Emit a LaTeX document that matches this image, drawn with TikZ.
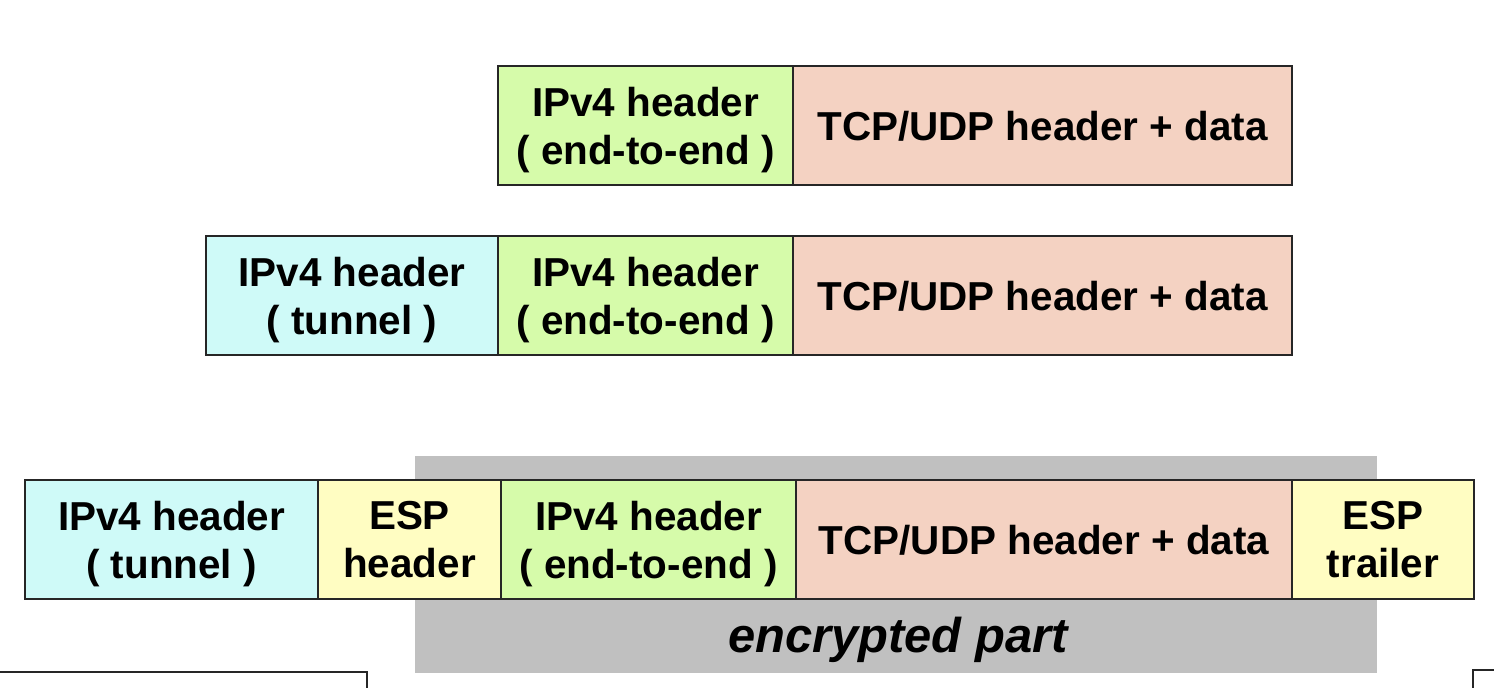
\documentclass[tikz,border=0pt]{standalone}
\usepackage{fontspec}
\setmainfont{Liberation Sans}
\usepackage{tikz}
\usetikzlibrary{positioning}

\definecolor{tunnelc}{RGB}{207,250,248}
\definecolor{endc}{RGB}{214,251,170}
\definecolor{datac}{RGB}{244,210,194}
\definecolor{espc}{RGB}{255,253,194}
\definecolor{cryptc}{RGB}{192,192,192}

\tikzset{
  champ/.style={draw=black!85, line width=0.6pt, minimum height=1.19cm, outer sep=0pt,
    inner sep=0pt, text depth=0pt, align=center, font=\fontsize{11.5pt}{13.7pt}\selectfont\bfseries},
  tunnel/.style={champ, fill=tunnelc},
  bout/.style={champ, fill=endc},
  donnees/.style={champ, fill=datac},
  esp/.style={champ, fill=espc}
}

\begin{document}
\begin{tikzpicture}
				\useasboundingbox (0,0) rectangle (14.94,-6.88);

				% zone chiffree
				\fill[cryptc] (4.15,-4.56) rectangle (13.77,-6.73);
				\node[font=\fontsize{13.9pt}{16pt}\selectfont\bfseries\itshape, anchor=base] (chiffre) at (8.98,-6.53) {encrypted part};

				% paquet original
				\node[bout, minimum width=2.95cm, anchor=west] (ipA) at (4.98,-1.255) {IPv4 header\\( end-to-end )};
				\node[donnees, minimum width=4.99cm, right=0pt of ipA] (dataA) {TCP/UDP header + data};

				% paquet encapsule
				\node[tunnel, minimum width=2.92cm, anchor=west] (tunB) at (2.06,-2.955) {IPv4 header\\( tunnel )};
				\node[bout, minimum width=2.95cm, right=0pt of tunB] (ipB) {IPv4 header\\( end-to-end )};
				\node[donnees, minimum width=4.99cm, right=0pt of ipB] (dataB) {TCP/UDP header + data};

				% paquet ESP
				\node[tunnel, minimum width=2.93cm, anchor=west] (tunC) at (0.25,-5.395) {IPv4 header\\( tunnel )};
				\node[esp, minimum width=1.83cm, right=0pt of tunC] (espH) {ESP\\header};
				\node[bout, minimum width=2.95cm, right=0pt of espH] (ipC) {IPv4 header\\( end-to-end )};
				\node[donnees, minimum width=4.96cm, right=0pt of ipC] (dataC) {TCP/UDP header + data};
				\node[esp, minimum width=1.82cm, right=0pt of dataC] (espT) {ESP\\trailer};

				% bords coupes en bas
				\draw[black!85, line width=0.6pt] (0,-6.72) -| (3.67,-6.88);
				\draw[black!85, line width=0.6pt] (14.73,-6.88) |- (14.94,-6.70);
\end{tikzpicture}
\end{document}
